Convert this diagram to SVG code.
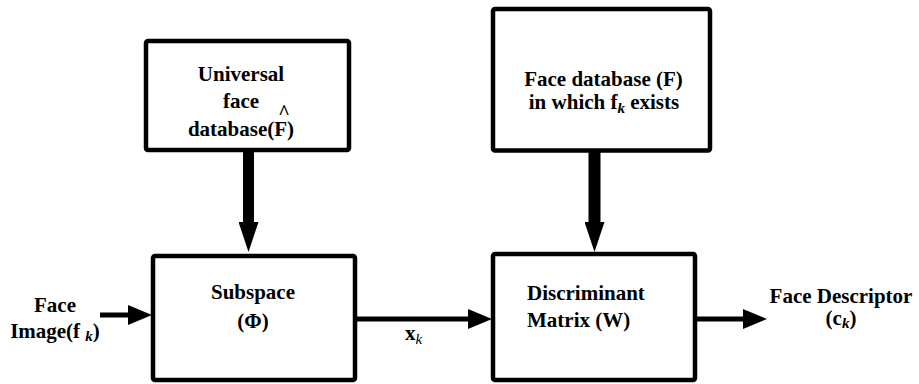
<svg xmlns="http://www.w3.org/2000/svg" width="919" height="384" viewBox="0 0 919 384">
<style>
.box{fill:#fff;stroke:#000;stroke-width:4.5;stroke-linejoin:round}
text{font-family:'Liberation Serif','Times New Roman',serif;font-weight:bold;font-size:21px;fill:#000}
.c{text-anchor:middle}
.sub{font-style:italic;font-size:15px}
.shaft{stroke:#000;fill:none}
</style>
<defs>
<marker id="hh" markerUnits="userSpaceOnUse" markerWidth="24" markerHeight="20" viewBox="0 0 24 20" refX="0" refY="10" orient="auto">
<path d="M0,0 L24,10 L0,20 z" fill="#000"/>
</marker>
<marker id="hv" markerUnits="userSpaceOnUse" markerWidth="30" markerHeight="20" viewBox="0 0 30 20" refX="0" refY="10" orient="auto">
<path d="M0,0 L30,10 L0,20 z" fill="#000"/>
</marker>
</defs>
<g id="universal">
<rect class="box" x="146" y="41" width="203" height="109" rx="2"/>
<text class="c" x="241" y="81">Universal</text>
<text class="c" x="241" y="108">face</text>
<text class="c" x="241" y="136">database(F)</text>
<text class="c" x="284" y="119" style="font-size:20px">^</text>
</g>
<g id="facedb">
<rect class="box" x="493" y="9" width="217" height="141.5" rx="2"/>
<text class="c" x="603.5" y="86">Face database (F)</text>
<text class="c" x="604" y="109">in which f<tspan class="sub" dy="4">k</tspan><tspan dy="-4"> exists</tspan></text>
</g>
<g id="subspace">
<rect class="box" x="153" y="256" width="202" height="124" rx="2"/>
<text class="c" x="253" y="299">Subspace</text>
<text class="c" x="253" y="328">(Φ)</text>
</g>
<g id="discriminant">
<rect class="box" x="493" y="254" width="202" height="126" rx="2"/>
<text x="527" y="300">Discriminant</text>
<text x="527" y="327">Matrix (W)</text>
</g>
<g id="input">
<text class="c" x="55" y="312">Face</text>
<text class="c" x="55" y="338">Image(f <tspan class="sub" dy="3">k</tspan><tspan dy="-3">)</tspan></text>
</g>
<g id="output">
<text class="c" x="841" y="303">Face Descriptor</text>
<text class="c" x="841" y="325">(c<tspan class="sub" dy="3">k</tspan><tspan dy="-3">)</tspan></text>
</g>
<g id="connectors">
<path class="shaft" d="M248.5,150 L248.5,222" stroke-width="11" marker-end="url(#hv)"/>
<path class="shaft" d="M594.5,150 L594.5,222" stroke-width="12" marker-end="url(#hv)"/>
<path class="shaft" d="M100,315 L128,315" stroke-width="5" marker-end="url(#hh)"/>
<path class="shaft" d="M355,319 L468,319" stroke-width="5" marker-end="url(#hh)"/>
<path class="shaft" d="M697,319 L743,319" stroke-width="5" marker-end="url(#hh)"/>
<text x="405" y="340">x<tspan class="sub" style="font-weight:normal" dy="4">k</tspan></text>
</g>
</svg>
